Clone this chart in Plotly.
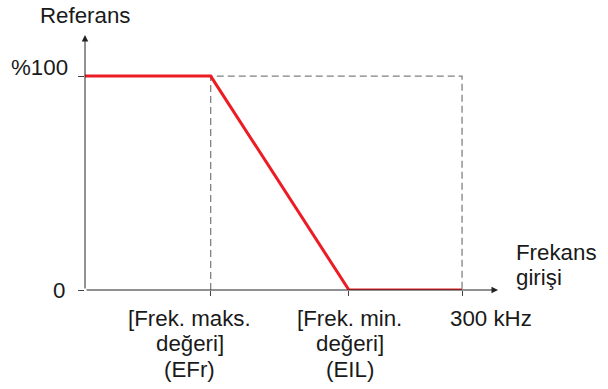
import plotly.graph_objects as go

# Data
freq_points = [0, 100, 210, 300]          # kHz positions along the input axis
ref_points = [100, 100, 0, 0]             # reference (%)
x_tick_vals = [100, 210, 300]
x_tick_lines = [["[Frek. maks.", "değeri]", "(EFr)"],
                ["[Frek. min.", "değeri]", "(EIL)"],
                ["300 kHz"]]
y_tick_vals = [0, 100]
y_tick_text = ["0", "%100"]
guide_x = [100, 100, 300, 300]
guide_y = [0, 100, 100, 0]
y_title = "Referans"
x_title_lines = ["Frekans", "girişi"]

# Styling / placement (pixels)
X_MAX = 328.6
Y_MAX = 119.2
FONT = "Liberation Sans, Arial, Helvetica, sans-serif"
FS = 22.3
TXT = "#1a1a1a"
RED = "rgb(237,28,36)"
GRAY = "rgb(128,128,128)"
x_label_xshift = [-21, 1, 29]
y_label_shift = [(-18, 0), (-15, 9)]
LINE_GAP = 25.5
FIRST_LINE = -28

fig = go.Figure()

# dashed guide lines
fig.add_trace(go.Scatter(x=guide_x, y=guide_y, mode="lines",
                         line=dict(color=GRAY, width=1.3, dash="7px,4px"),
                         hoverinfo="skip", showlegend=False))

# axis lines with arrowheads
fig.add_annotation(x=X_MAX, y=0, ax=0, ay=0, xref="x", yref="y", axref="x", ayref="y",
                   showarrow=True, arrowhead=2, arrowsize=1.3, arrowwidth=1,
                   arrowcolor="#222", text="")
fig.add_annotation(x=0, y=Y_MAX, ax=0, ay=0, xref="x", yref="y", axref="x", ayref="y",
                   showarrow=True, arrowhead=2, arrowsize=1.3, arrowwidth=1,
                   arrowcolor="#222", text="")

# red reference curve
fig.add_trace(go.Scatter(x=freq_points, y=ref_points, mode="lines",
                         line=dict(color=RED, width=3),
                         hoverinfo="skip", showlegend=False))

font = dict(family=FONT, size=FS, color=TXT)

# x tick labels, one annotation per line
for xv, lines, xs in zip(x_tick_vals, x_tick_lines, x_label_xshift):
    for i, line in enumerate(lines):
        fig.add_annotation(x=xv, y=0, xref="x", yref="y", xanchor="center",
                           yanchor="middle", xshift=xs,
                           yshift=FIRST_LINE - i * LINE_GAP,
                           text=line, showarrow=False, font=font)

# y tick labels
for yv, txt, (xs, ys) in zip(y_tick_vals, y_tick_text, y_label_shift):
    fig.add_annotation(x=0, y=yv, xref="x", yref="y", xanchor="right",
                       yanchor="middle", xshift=xs, yshift=ys,
                       text=txt, showarrow=False, font=font)

# axis titles
fig.add_annotation(x=0, y=1, xref="x", yref="paper", yshift=20, yanchor="middle",
                   text=y_title, showarrow=False, font=font)
for i, line in enumerate(x_title_lines):
    fig.add_annotation(x=1, y=0, xref="paper", yref="y", xshift=16, xanchor="left",
                       yanchor="middle", yshift=38 - i * LINE_GAP, align="left",
                       text=line, showarrow=False, font=font)

fig.update_layout(
    width=608, height=389,
    margin=dict(l=85, r=110, t=35, b=99),
    paper_bgcolor="white", plot_bgcolor="white",
    font=font,
    hovermode=False,
    xaxis=dict(range=[0, X_MAX], showgrid=False, zeroline=False, showline=False,
               tickmode="array", tickvals=x_tick_vals, showticklabels=False,
               ticks="outside", ticklen=5, tickwidth=1, tickcolor="#444",
               automargin=False, fixedrange=True),
    yaxis=dict(range=[0, Y_MAX], showgrid=False, zeroline=False, showline=False,
               tickmode="array", tickvals=y_tick_vals, showticklabels=False,
               ticks="outside", ticklen=6, tickwidth=1, tickcolor="#444",
               automargin=False, fixedrange=True),
)

# remove the page's default body margin so the 608x389 figure fills the window
fig.write_html("out.html", config={"displayModeBar": False},
               post_script="document.body.style.margin='0';")
